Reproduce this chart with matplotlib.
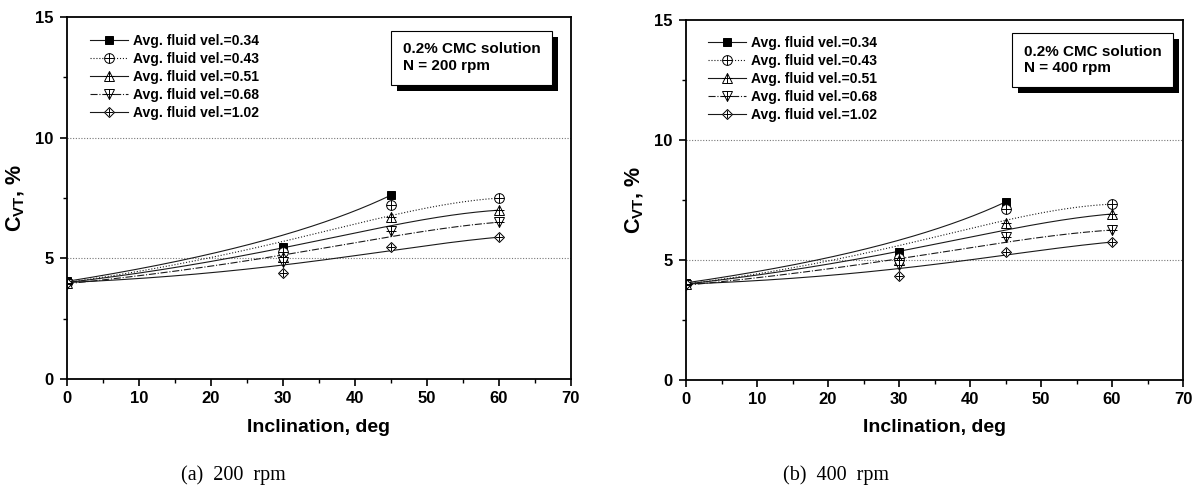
import matplotlib
matplotlib.use("Agg")
import matplotlib.pyplot as plt
import matplotlib.patheffects as pe
import numpy as np
from math import comb

plt.rcParams['font.family'] = ['Liberation Sans', 'DejaVu Sans']
plt.rcParams['mathtext.fontset'] = 'custom'
plt.rcParams['mathtext.rm'] = 'Liberation Sans'
plt.rcParams['mathtext.bf'] = 'Liberation Sans:bold'

# ---- data ----
velocities = ['0.34', '0.43', '0.51', '0.68', '1.02']
angles_short = [0, 30, 45]          # 0.34 m/s series has no 60 deg point
angles_full = [0, 30, 45, 60]

cvt_200 = {
    '0.34': [4.05, 5.47, 7.62],
    '0.43': [4.00, 5.25, 7.20, 7.50],
    '0.51': [4.00, 5.05, 6.70, 7.00],
    '0.68': [3.95, 4.85, 6.13, 6.50],
    '1.02': [4.00, 4.40, 5.47, 5.88],
}
cvt_400 = {
    '0.34': [4.05, 5.33, 7.42],
    '0.43': [4.00, 5.10, 7.12, 7.33],
    '0.51': [4.00, 5.00, 6.54, 6.92],
    '0.68': [3.95, 4.80, 5.96, 6.25],
    '1.02': [4.00, 4.33, 5.33, 5.75],
}
rpm_labels = ['200', '400']
captions = ['(a)  200  rpm', '(b)  400  rpm']

styles = {
    '0.34': dict(ls='-', marker='s', fill=True, ms=5.5),
    '0.43': dict(ls=':', marker='o', fill=False, ms=7),
    '0.51': dict(ls='-', marker='^', fill=False, ms=7),
    '0.68': dict(ls='-.', marker='v', fill=False, ms=7),
    '1.02': dict(ls='-', marker='D', fill=False, ms=5.5),
}


def bezier(x, y, n=200):
    # Origin-like B-spline look: Bezier curve with the data points as control points
    x = np.asarray(x, float)
    y = np.asarray(y, float)
    k = len(x) - 1
    t = np.linspace(0, 1, n)
    bx = sum(comb(k, i) * t**i * (1 - t)**(k - i) * x[i] for i in range(k + 1))
    by = sum(comb(k, i) * t**i * (1 - t)**(k - i) * y[i] for i in range(k + 1))
    return bx, by


fig = plt.figure(figsize=(12.04, 4.9), dpi=100)
axes = [fig.add_axes([0.0556, 0.2265, 0.4186, 0.7385]),
        fig.add_axes([0.5698, 0.2245, 0.4128, 0.7345])]
leg_anchor = [(0.046, 0.953), (0.044, 0.955)]
box_x = [0.666, 0.679]
box_y = [0.930, 0.932]
ylab_x = [-0.079, -0.080]

for i, (ax, data, rpm) in enumerate(zip(axes, [cvt_200, cvt_400], rpm_labels)):
    handles = []
    for v in velocities:
        ys = data[v]
        xs = angles_short if len(ys) == 3 else angles_full
        st = styles[v]
        cx, cy = bezier(xs, ys)
        ax.plot(cx, cy, color='#1a1a1a', lw=0.8, ls=st['ls'], zorder=2)
        mfc = 'black' if st['fill'] else 'white'
        ax.plot(xs, ys, ls='none', marker=st['marker'], ms=st['ms'],
                mfc=mfc, mec='black', mew=0.7, zorder=3)
        h1, = ax.plot([], [], color='#1a1a1a', lw=0.8, ls=st['ls'], marker=st['marker'],
                      ms=st['ms'], mfc=mfc, mec='black', mew=0.7)
        if not st['fill']:
            ax.plot(xs, ys, ls='none', marker='+', ms=st['ms'], mec='black', mew=0.7, zorder=4)
            h2, = ax.plot([], [], ls='none', marker='+', ms=st['ms'], mec='black', mew=0.7)
            handles.append((h1, h2))
        else:
            handles.append(h1)

    ax.legend(handles, ['Avg. fluid vel.=' + v for v in velocities],
              loc='upper left', bbox_to_anchor=leg_anchor[i], frameon=False,
              prop={'weight': 'bold', 'size': 10}, handlelength=2.75,
              handletextpad=0.36, labelspacing=0.28, borderaxespad=0, borderpad=0)

    ax.set_xlim(0, 70)
    ax.set_ylim(0, 15)
    ax.set_xticks(np.arange(0, 71, 10))
    ax.set_xticks(np.arange(5, 70, 10), minor=True)
    ax.set_yticks([0, 5, 10, 15])
    ax.set_yticks([2.5, 7.5, 12.5], minor=True)
    for yy in (5, 10):
        ax.axhline(yy, color='#777777', lw=0.8, ls=(0, (1, 1.5)), zorder=1)
    ax.tick_params(which='major', direction='out', length=5, width=1.2, labelsize=12)
    ax.tick_params(axis='x', which='major', pad=3.5)
    ax.tick_params(axis='y', which='major', pad=4.5)
    ax.tick_params(which='minor', direction='out', length=3, width=1.0)
    for lab in ax.get_xticklabels() + ax.get_yticklabels():
        lab.set_fontweight('bold')
    for sp in ax.spines.values():
        sp.set_linewidth(1.3)

    xl = ax.set_xlabel('Inclination, deg', fontsize=14, fontweight='bold')
    xl.set_verticalalignment('center')
    ax.xaxis.set_label_coords(0.5, -0.133)
    ax.set_ylabel(r'$\mathbf{C_{VT}}$, %', fontsize=15.5, fontweight='bold')
    ax.yaxis.set_label_coords(ylab_x[i], 0.5)

    t = ax.text(box_x[i], box_y[i], '0.2% CMC solution\nN = ' + rpm + ' rpm',
                transform=ax.transAxes, ha='left', va='top', fontsize=11,
                fontweight='bold', linespacing=1.25,
                bbox=dict(boxstyle='square,pad=0.75', fc='white', ec='black', lw=0.8))
    t.get_bbox_patch().set_path_effects(
        [pe.SimplePatchShadow(offset=(4.5, -4.5), shadow_rgbFace='black', alpha=1.0), pe.Normal()])

serif = ['Liberation Serif', 'DejaVu Serif']
fig.text(0.194, 0.03, captions[0], fontsize=14.5, family=serif, ha='center', va='center')
fig.text(0.694, 0.03, captions[1], fontsize=14.5, family=serif, ha='center', va='center')

fig.savefig('out.png', dpi=100)
